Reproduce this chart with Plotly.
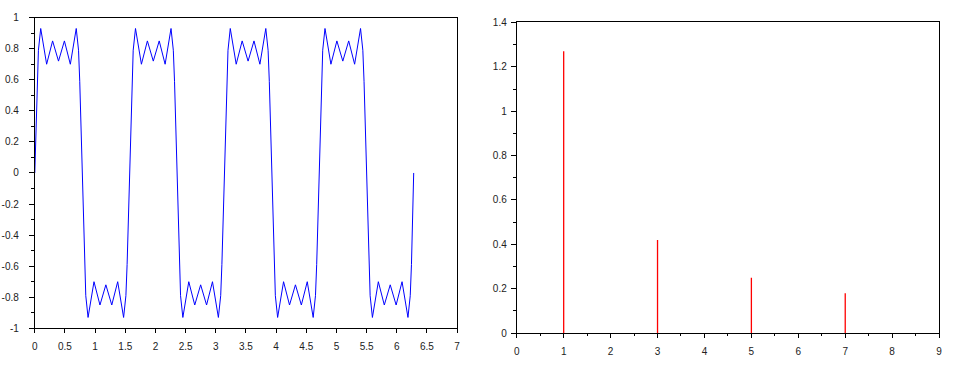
import plotly.graph_objects as go

# ---- left panel: 4-harmonic square wave (vertices) ----
t_vals = [
    0.000, 0.020, 0.040, 0.060, 0.098, 0.196, 0.295, 0.393, 0.491, 0.589, 0.687, 0.725, 0.745, 0.765,
    0.785, 0.805, 0.825, 0.845, 0.883, 0.981, 1.080, 1.178, 1.276, 1.374, 1.472, 1.510, 1.530, 1.550,
    1.571, 1.591, 1.611, 1.631, 1.669, 1.767, 1.866, 1.964, 2.062, 2.160, 2.258, 2.296, 2.316, 2.336,
    2.356, 2.376, 2.396, 2.416, 2.454, 2.552, 2.651, 2.749, 2.847, 2.945, 3.043, 3.081, 3.101, 3.121,
    3.142, 3.162, 3.182, 3.202, 3.240, 3.338, 3.437, 3.535, 3.633, 3.731, 3.829, 3.867, 3.887, 3.907,
    3.927, 3.947, 3.967, 3.987, 4.025, 4.123, 4.222, 4.320, 4.418, 4.516, 4.614, 4.652, 4.672, 4.692,
    4.712, 4.732, 4.752, 4.772, 4.810, 4.908, 5.007, 5.105, 5.203, 5.301, 5.399, 5.437, 5.457, 5.477,
    5.498, 5.518, 5.538, 5.558, 5.596, 5.694, 5.793, 5.891, 5.989, 6.087, 6.185, 6.223, 6.243, 6.263,
    6.280,
]
signal_vals = [
    0.00, 0.31, 0.59, 0.79, 0.93, 0.70, 0.85, 0.72, 0.85, 0.70, 0.93, 0.79, 0.59, 0.31,
    0.00, -0.31, -0.59, -0.79, -0.93, -0.70, -0.85, -0.72, -0.85, -0.70, -0.93, -0.79, -0.59, -0.31,
    0.00, 0.31, 0.59, 0.79, 0.93, 0.70, 0.85, 0.72, 0.85, 0.70, 0.93, 0.79, 0.59, 0.31,
    0.00, -0.31, -0.59, -0.79, -0.93, -0.70, -0.85, -0.72, -0.85, -0.70, -0.93, -0.79, -0.59, -0.31,
    0.00, 0.31, 0.59, 0.79, 0.93, 0.70, 0.85, 0.72, 0.85, 0.70, 0.93, 0.79, 0.59, 0.31,
    0.00, -0.31, -0.59, -0.79, -0.93, -0.70, -0.85, -0.72, -0.85, -0.70, -0.93, -0.79, -0.59, -0.31,
    0.00, 0.31, 0.59, 0.79, 0.93, 0.70, 0.85, 0.72, 0.85, 0.70, 0.93, 0.79, 0.59, 0.31,
    0.00, -0.31, -0.59, -0.79, -0.93, -0.70, -0.85, -0.72, -0.85, -0.70, -0.93, -0.79, -0.59, -0.31,
    0.00,
]

# ---- right panel: harmonic amplitudes ----
harmonics = [1, 3, 5, 7]
amplitudes = [1.27, 0.42, 0.25, 0.18]

# ---- tick labels ----
left_x_ticks = [0, 0.5, 1, 1.5, 2, 2.5, 3, 3.5, 4, 4.5, 5, 5.5, 6, 6.5, 7]
left_x_text = ["0", "0.5", "1", "1.5", "2", "2.5", "3", "3.5", "4", "4.5", "5", "5.5", "6", "6.5", "7"]
left_y_ticks = [-1, -0.8, -0.6, -0.4, -0.2, 0, 0.2, 0.4, 0.6, 0.8, 1]
left_y_text = ["-1", "-0.8", "-0.6", "-0.4", "-0.2", "0", "0.2", "0.4", "0.6", "0.8", "1"]
right_x_ticks = [0, 1, 2, 3, 4, 5, 6, 7, 8, 9]
right_x_text = ["0", "1", "2", "3", "4", "5", "6", "7", "8", "9"]
right_y_ticks = [0, 0.2, 0.4, 0.6, 0.8, 1, 1.2, 1.4]
right_y_text = ["0", "0.2", "0.4", "0.6", "0.8", "1", "1.2", "1.4"]

stem_x, stem_y = [], []
for h, a in zip(harmonics, amplitudes):
    stem_x += [h, h, None]
    stem_y += [0, a, None]

fig = go.Figure()
fig.add_trace(go.Scatter(x=t_vals, y=signal_vals, mode="lines",
                         line=dict(color="#0000ff", width=1),
                         xaxis="x", yaxis="y", showlegend=False, hoverinfo="skip"))
fig.add_trace(go.Scatter(x=stem_x, y=stem_y, mode="lines",
                         line=dict(color="#ff0000", width=1.3),
                         xaxis="x2", yaxis="y2", showlegend=False, hoverinfo="skip"))

font = dict(family="Liberation Sans, Arial, sans-serif", size=10, color="#222")

def ax(domain, rng, tv, tt, minor_dtick, anchor, ticklen, minorlen, standoff):
    d = dict(domain=domain, range=rng, anchor=anchor,
             tickmode="array", tickvals=tv, ticktext=tt,
             ticks="outside", ticklen=ticklen, tickwidth=1, tickcolor="#000",
             showline=True, linecolor="#000", linewidth=1, mirror=True,
             showgrid=False, zeroline=False, tickfont=font,
             ticklabelstandoff=standoff)
    if minor_dtick:
        d["minor"] = dict(ticks="outside", ticklen=minorlen, tickcolor="#000",
                          tick0=0, dtick=minor_dtick, showgrid=False)
    return d

W, H = 955, 374
fig.update_layout(
    width=W, height=H,
    margin=dict(l=0, r=0, t=0, b=0),
    paper_bgcolor="white", plot_bgcolor="white",
    xaxis=ax([32 / W, 457 / W], [0, 7], left_x_ticks, left_x_text, None, "y", 4, 2, 5),
    yaxis=ax([1 - 333 / H, 1 - 12 / H], [-1, 1], left_y_ticks, left_y_text, 0.1, "x", 5, 3, 8),
    xaxis2=ax([517 / W, 942 / W], [0, 9], right_x_ticks, right_x_text, 0.5, "y2", 4, 2, 5),
    yaxis2=ax([1 - 338 / H, 1 - 17 / H], [0, 1.4], right_y_ticks, right_y_text, 0.1, "x2", 5, 3, 2),
)

fig.write_html("out.html")
